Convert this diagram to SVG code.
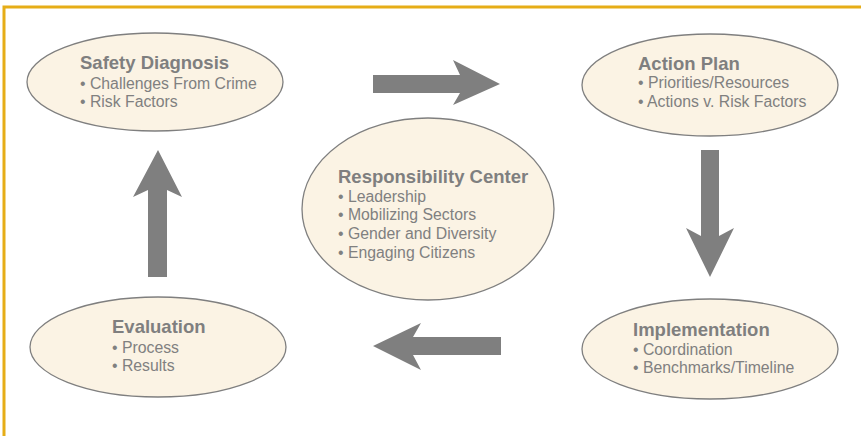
<svg xmlns="http://www.w3.org/2000/svg" width="861" height="436" viewBox="0 0 861 436">
<style>
.node ellipse{fill:#FBF3E4;stroke:#7F7F7F;stroke-width:1.3}
.t{font-family:"Liberation Sans",Arial,sans-serif;font-weight:bold;font-size:18.5px;fill:#7F7F7F}
.b{font-family:"Liberation Sans",Arial,sans-serif;font-size:15.8px;fill:#808080}
.arrow{fill:#7F7F7F}
</style>
<rect width="861" height="436" fill="#FFFFFF"/>
<path d="M4,436 L4,7 L861,7" fill="none" stroke="#E6AD17" stroke-width="3"/>
<g id="safety-diagnosis" class="node">
<ellipse cx="155" cy="82" rx="128" ry="49"/>
<text class="t" x="80" y="69">Safety Diagnosis</text>
<text class="b" x="80" y="89">• Challenges From Crime</text>
<text class="b" x="80" y="107">• Risk Factors</text>
</g>
<g id="action-plan" class="node">
<ellipse cx="710" cy="85" rx="128" ry="51"/>
<text class="t" x="638" y="70">Action Plan</text>
<text class="b" x="638" y="88">• Priorities/Resources</text>
<text class="b" x="638" y="107">• Actions v. Risk Factors</text>
</g>
<g id="responsibility-center" class="node">
<ellipse cx="428" cy="209" rx="126" ry="91"/>
<text class="t" x="338" y="183">Responsibility Center</text>
<text class="b" x="338" y="202">• Leadership</text>
<text class="b" x="338" y="220">• Mobilizing Sectors</text>
<text class="b" x="338" y="239">• Gender and Diversity</text>
<text class="b" x="338" y="258">• Engaging Citizens</text>
</g>
<g id="evaluation" class="node">
<ellipse cx="158" cy="347" rx="128" ry="50"/>
<text class="t" x="112" y="333">Evaluation</text>
<text class="b" x="112" y="353">• Process</text>
<text class="b" x="112" y="371">• Results</text>
</g>
<g id="implementation" class="node">
<ellipse cx="710" cy="349" rx="128" ry="50"/>
<text class="t" x="633" y="336">Implementation</text>
<text class="b" x="633" y="355">• Coordination</text>
<text class="b" x="633" y="373">• Benchmarks/Timeline</text>
</g>
<g id="connectors">
<polygon class="arrow" points="373,75 460,75 453,60 500,84 453,105 460,93 373,93"/>
<polygon class="arrow" points="701,150 719,150 719,236 734,228 710,277 686,228 701,236"/>
<polygon class="arrow" points="501,337 413,337 421,323 373,346 421,370 413,355 501,355"/>
<polygon class="arrow" points="148,277 167,277 167,190 182,197 158,150 133,197 148,190"/>
</g>
</svg>
